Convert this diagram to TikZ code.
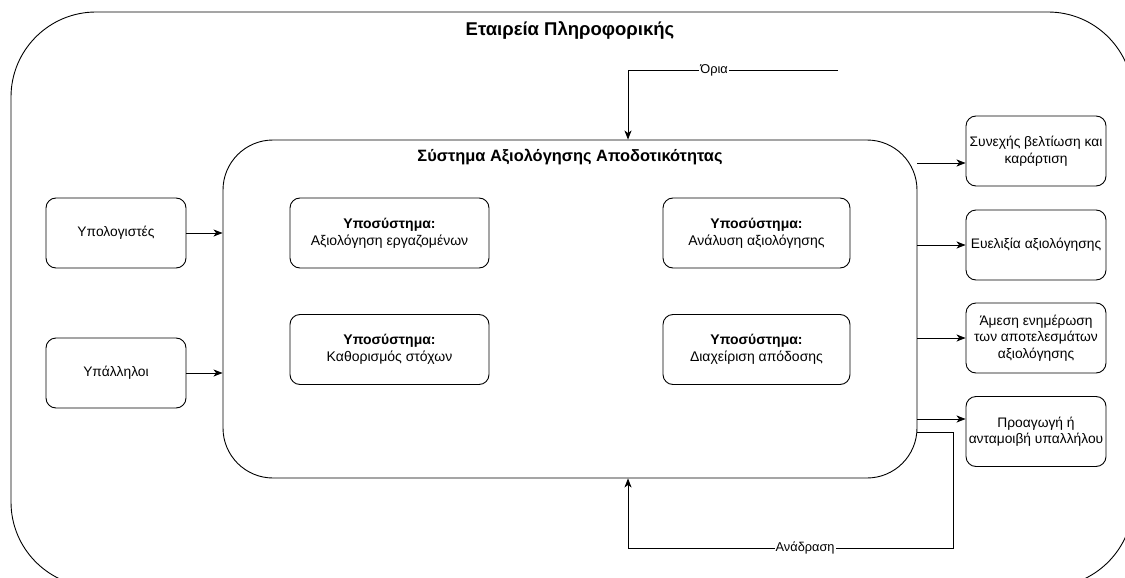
\documentclass[tikz,border=0pt]{standalone}
\usepackage{fontspec}
\setmainfont{Liberation Sans}
\usetikzlibrary{arrows.meta,calc}
\tikzset{
  box/.style={draw=black, line width=0.9pt, rounded corners=10pt, align=center,
    minimum width=140pt, minimum height=70pt, inner sep=1pt,
    font=\fontsize{13.8}{16.5}\selectfont},
  subbox/.style={box, minimum height=70pt, font=\fontsize{14}{17}\selectfont},
  arr/.style={draw=black, line width=0.9pt, -{Stealth[length=9pt,width=7pt,inset=2.5pt]}},
  edgelabel/.style={fill=white, inner sep=1pt, font=\fontsize{12.8}{15}\selectfont},
}
\begin{document}
\begin{tikzpicture}[x=1pt,y=-1pt]
\useasboundingbox (0,0) rectangle (1125,578);
\fill[white] (0,0) rectangle (1125,578);

% company boundary, running past the page edges on the right and bottom
\begin{scope}
  \clip (0,0) rectangle (1125,578);
  \draw[line width=0.9pt, rounded corners=85pt] (11,12) rectangle (1133,587);
\end{scope}
\node[font=\bfseries\fontsize{18.5}{22}\selectfont] (title) at (570,30) {Εταιρεία Πληροφορικής};

% main system
\node[draw=black, line width=0.9pt, rounded corners=50pt, minimum width=694pt, minimum height=338pt]
  (sys) at (570,309) {};
\node[font=\bfseries\fontsize{16.4}{19}\selectfont] (systitle) at (570,157)
  {Σύστημα Αξιολόγησης Αποδοτικότητας};

% subsystems
\node[subbox, minimum width=199pt] (s1) at (389.5,233)
  {\textbf{Υποσύστημα:}\\Αξιολόγηση εργαζομένων};
\node[subbox, minimum width=199pt] (s2) at (389.5,349.5)
  {\textbf{Υποσύστημα:}\\Καθορισμός στόχων};
\node[subbox, minimum width=187pt] (s3) at (756.5,233)
  {\textbf{Υποσύστημα:}\\Ανάλυση αξιολόγησης};
\node[subbox, minimum width=187pt] (s4) at (756.5,349.5)
  {\textbf{Υποσύστημα:}\\Διαχείριση απόδοσης};

% inputs
\node[box] (in1) at (116,233) {Υπολογιστές};
\node[box] (in2) at (116,373) {Υπάλληλοι};
\draw[arr] (in1.east) -- (sys.west |- in1.east);
\draw[arr] (in2.east) -- (sys.west |- in2.east);

% outputs
\node[box] (o1) at (1036,151) {Συνεχής βελτίωση και\\καράρτιση};
\node[box] (o2) at (1036,245) {Ευελιξία αξιολόγησης};
\node[box] (o3) at (1036,338) {Άμεση ενημέρωση\\των αποτελεσμάτων\\αξιολόγησης};
\node[box] (o4) at (1036,431.5) {Προαγωγή ή\\ανταμοιβή υπαλλήλου};
\coordinate (y1) at (0,163);
\coordinate (y4) at (0,419);
\draw[arr] (sys.east |- y1) -- (o1.west |- y1);
\draw[arr] (sys.east |- o2.west) -- (o2.west);
\draw[arr] (sys.east |- o3.west) -- (o3.west);
\draw[arr] (sys.east |- y4) -- (o4.west |- y4);

% boundaries
\coordinate (ostart) at (838,70);
\coordinate (ocorner) at (628,70);
\draw[arr] (ostart) -- node[edgelabel, pos=0.59] (olabel) {Όρια} (ocorner) -- (sys.north -| ocorner);

% feedback loop
\coordinate (fb0) at (0,432);
\coordinate (fb1) at (953,432);
\coordinate (fb2) at (953,548);
\coordinate (fb3) at (628,548);
\draw[arr] (sys.east |- fb0) -- (fb1) -- (fb2)
  -- node[edgelabel, pos=0.455] (fblabel) {Ανάδραση} (fb3) -- (sys.south -| fb3);
\end{tikzpicture}
\end{document}
